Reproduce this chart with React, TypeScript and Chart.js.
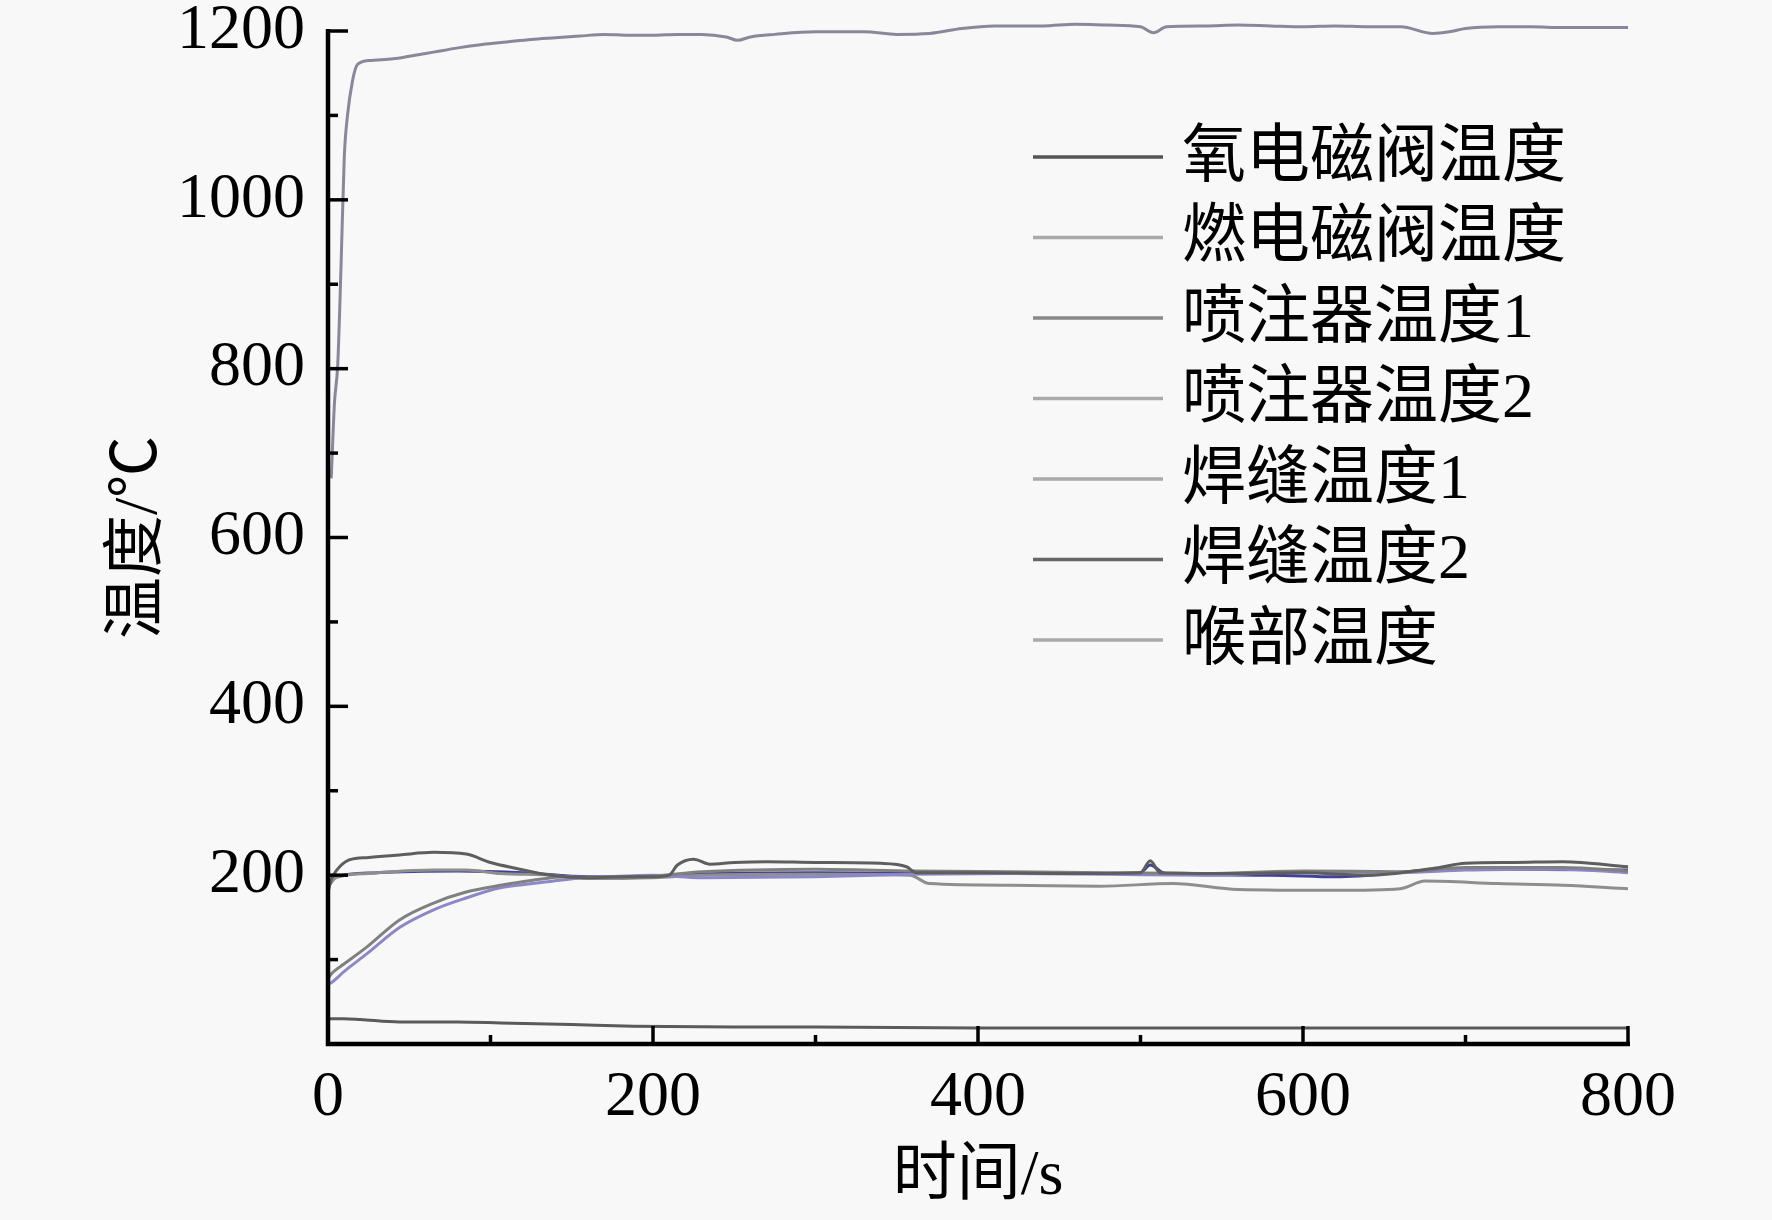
import { useEffect, useRef } from "react";
import { Chart, registerables } from "chart.js";

Chart.register(...registerables);

// 各测点名称（图例顺序）
const seriesNames = [
  "氧电磁阀温度",
  "燃电磁阀温度",
  "喷注器温度1",
  "喷注器温度2",
  "焊缝温度1",
  "焊缝温度2",
  "喉部温度",
];

// 时间 / s 与温度 / ℃
const oxValveT = [0, 10, 20, 44, 80, 106, 150, 188, 250, 300, 400, 500, 600, 700, 800];
const oxValveV = [30, 30, 29, 26, 26, 25, 23, 21, 20, 20, 19, 19, 19, 19, 19];

const fuelValveT = [0, 2, 5, 13, 25, 44, 65, 85, 100, 116, 137, 160, 180, 200, 210, 215, 225, 235, 250, 270, 300, 340, 356, 362, 400, 450, 500, 506, 512, 560, 600, 640, 680, 700, 730, 760, 800];
const fuelValveV = [180, 195, 205, 218, 221, 224, 227, 225, 215, 208, 200, 197, 198, 198, 200, 212, 219, 213, 215, 216, 215, 214, 210, 203, 203, 202, 203, 217, 203, 202, 203, 200, 208, 214, 215, 216, 210];

const injector1T = [0, 3, 10, 24, 44, 65, 85, 106, 126, 147, 170, 200, 230, 300, 360, 420, 480, 540, 600, 660, 700, 760, 800];
const injector1V = [78, 85, 95, 115, 147, 167, 180, 188, 194, 198, 197, 199, 204, 207, 205, 204, 203, 202, 205, 204, 209, 209, 205];

const injector2T = [0, 3, 10, 24, 44, 65, 85, 106, 126, 147, 170, 200, 230, 300, 360, 420, 480, 540, 600, 660, 700, 760, 800];
const injector2V = [70, 74, 86, 107, 138, 159, 173, 185, 190, 195, 198, 200, 197, 198, 201, 202, 201, 200, 204, 203, 206, 207, 203];

const weld1T = [0, 5, 24, 65, 85, 106, 137, 160, 200, 230, 300, 358, 370, 420, 475, 520, 560, 620, 660, 675, 720, 760, 800];
const weld1V = [186, 197, 202, 206, 206, 202, 200, 196, 197, 200, 201, 200, 190, 188, 187, 190, 183, 182, 184, 193, 190, 188, 184];

const weld2T = [0, 5, 30, 80, 120, 160, 200, 240, 300, 360, 420, 470, 500, 506, 515, 580, 620, 680, 720, 800];
const weld2V = [192, 198, 203, 205, 203, 198, 199, 202, 203, 202, 203, 202, 203, 212, 202, 200, 198, 206, 207, 206];

const throatT = [2, 4, 6, 8, 10, 12, 15, 18, 25, 40, 50, 65, 80, 95, 110, 125, 140, 155, 170, 185, 200, 215, 230, 245, 252, 260, 275, 300, 330, 350, 370, 390, 410, 440, 460, 480, 500, 508, 516, 540, 560, 580, 600, 620, 640, 660, 680, 690, 700, 720, 740, 760, 780, 800];
const throatV = [670, 760, 805, 920, 1050, 1100, 1140, 1160, 1165, 1167, 1170, 1175, 1180, 1184, 1187, 1190, 1192, 1194, 1196, 1195, 1195, 1196, 1196, 1193, 1189, 1193, 1196, 1199, 1199, 1196, 1197, 1203, 1206, 1206, 1208, 1207, 1205, 1198, 1205, 1206, 1207, 1206, 1205, 1206, 1205, 1205, 1197, 1199, 1203, 1205, 1205, 1204, 1204, 1204];

const seriesTimes = [oxValveT, fuelValveT, injector1T, injector2T, weld1T, weld2T, throatT];
const seriesValues = [oxValveV, fuelValveV, injector1V, injector2V, weld1V, weld2V, throatV];

const lineColors = ["#5a5a5a", "#5e5e5e", "#808080", "#8c88c8", "#8e8e8e", "#40409a", "#88889a"];
const legendColors = ["#555555", "#aaaaaa", "#888888", "#aaaaaa", "#aaaaaa", "#666666", "#aaaaaa"];

const xTicks = [0, 200, 400, 600, 800];
const yTicks = [200, 400, 600, 800, 1000, 1200];

const FONT = "'Liberation Serif', 'Noto Sans CJK SC', serif";

// 刻度朝内，主刻度之间加一个次刻度
const inwardTicks = {
  id: "inwardTicks",
  afterDraw(chart: Chart) {
    const { ctx } = chart;
    const x = chart.scales.x;
    const y = chart.scales.y;
    ctx.save();
    ctx.strokeStyle = "#000";
    ctx.lineWidth = 3.5;
    const drawX = (v: number, len: number) => {
      const px = x.getPixelForValue(v);
      ctx.beginPath();
      ctx.moveTo(px, y.bottom);
      ctx.lineTo(px, y.bottom - len);
      ctx.stroke();
    };
    const drawY = (v: number, len: number) => {
      const py = y.getPixelForValue(v);
      ctx.beginPath();
      ctx.moveTo(x.left, py);
      ctx.lineTo(x.left + len, py);
      ctx.stroke();
    };
    xTicks.forEach((v, i) => {
      drawX(v, 18);
      if (i < xTicks.length - 1) drawX((v + xTicks[i + 1]) / 2, 9);
    });
    drawY(100, 10);
    yTicks.forEach((v, i) => {
      drawY(v, 20);
      if (i < yTicks.length - 1) drawY((v + yTicks[i + 1]) / 2, 10);
    });
    // 坐标轴线
    ctx.lineWidth = 4.5;
    ctx.beginPath();
    ctx.moveTo(x.left, y.getPixelForValue(1200) - 2);
    ctx.lineTo(x.left, y.bottom);
    ctx.lineTo(x.right + 2, y.bottom);
    ctx.stroke();
    ctx.restore();
  },
};

// 图例画在绘图区右上
const innerLegend = {
  id: "innerLegend",
  afterDraw(chart: Chart) {
    const { ctx } = chart;
    ctx.save();
    ctx.font = `64px ${FONT}`;
    ctx.fillStyle = "#000";
    ctx.textBaseline = "middle";
    ctx.textAlign = "left";
    seriesNames.forEach((name, i) => {
      const yy = 157 + i * 80.5;
      ctx.strokeStyle = legendColors[i];
      ctx.lineWidth = 3.5;
      ctx.beginPath();
      ctx.moveTo(1033, yy);
      ctx.lineTo(1163, yy);
      ctx.stroke();
      ctx.fillText(name, 1182, yy + 2);
    });
    ctx.restore();
  },
};

export default function App() {
  const canvasRef = useRef<HTMLCanvasElement>(null);
  const chartRef = useRef<Chart | null>(null);

  useEffect(() => {
    if (!canvasRef.current) return;
    const ctx = canvasRef.current.getContext("2d");
    if (!ctx) return;

    if (chartRef.current) {
      chartRef.current.destroy();
      chartRef.current = null;
    }

    chartRef.current = new Chart(ctx, {
      type: "line",
      data: {
        datasets: seriesNames.map((name, i) => ({
          label: name,
          data: seriesTimes[i].map((t, j) => ({ x: t, y: seriesValues[i][j] })),
          borderColor: lineColors[i],
          borderWidth: 3,
          pointRadius: 0,
          cubicInterpolationMode: "monotone" as const,
          clip: false as const,
        })),
      },
      options: {
        animation: false,
        responsive: true,
        maintainAspectRatio: false,
        layout: { padding: { top: 31, right: 144, bottom: 0, left: 0 } },
        plugins: {
          legend: { display: false },
          tooltip: { enabled: false },
        },
        scales: {
          x: {
            type: "linear",
            min: 0,
            max: 800,
            afterBuildTicks: (s) => {
              s.ticks = xTicks.map((v) => ({ value: v }));
            },
            afterFit: (s) => {
              s.height = 176;
              s.paddingLeft = 0;
              s.paddingRight = 0;
            },
            ticks: {
              color: "#000",
              font: { family: FONT, size: 64 },
              padding: 16,
              maxRotation: 0,
              callback: (v) => String(v),
            },
            grid: { display: false, drawTicks: false },
            border: { display: false },
            title: {
              display: true,
              text: "时间/s",
              color: "#000",
              font: { family: FONT, size: 64 },
              padding: { top: 0, bottom: 4 },
            },
          },
          y: {
            type: "linear",
            min: 0,
            max: 1200,
            afterBuildTicks: (s) => {
              s.ticks = yTicks.map((v) => ({ value: v }));
            },
            afterFit: (s) => {
              s.width = 328;
              s.paddingTop = 0;
              s.paddingBottom = 0;
            },
            ticks: {
              color: "#000",
              font: { family: FONT, size: 64 },
              padding: 23,
              callback: (v) => String(v),
            },
            grid: { display: false, drawTicks: false },
            border: { display: false },
            title: {
              display: true,
              text: "温度/℃",
              color: "#000",
              font: { family: FONT, size: 62 },
              padding: { top: 103, bottom: 0 },
            },
          },
        },
      },
      plugins: [inwardTicks, innerLegend],
    });

    return () => {
      if (chartRef.current) {
        chartRef.current.destroy();
        chartRef.current = null;
      }
    };
  }, []);

  return (
    <div
      style={{
        position: "absolute",
        left: 0,
        top: 0,
        width: 1772,
        height: 1220,
        background: "#f8f8f8",
      }}
    >
      <canvas ref={canvasRef}></canvas>
    </div>
  );
}
